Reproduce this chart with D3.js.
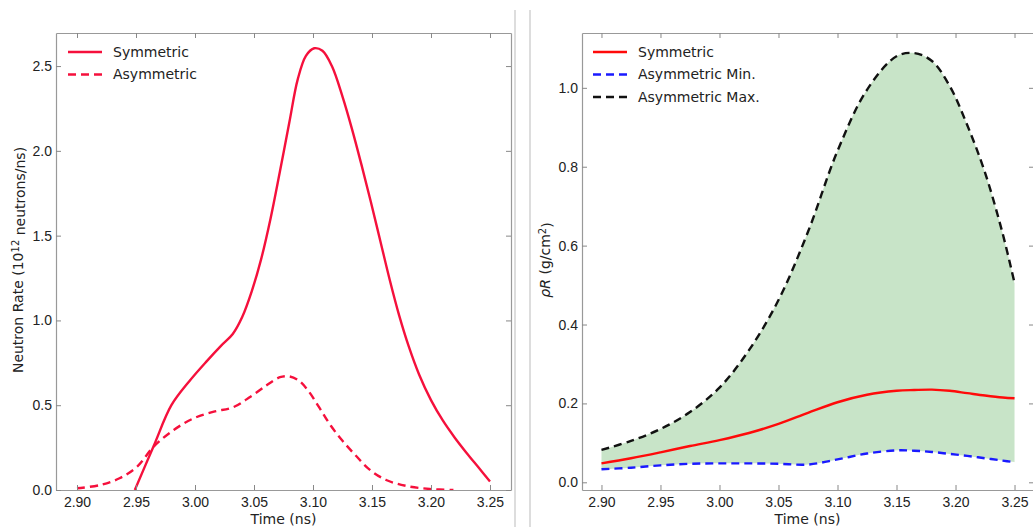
<!DOCTYPE html>
<html>
<head>
<meta charset="utf-8">
<script src="https://cdn.jsdelivr.net/npm/d3@7/dist/d3.min.js"></script>
<style>
  body { margin: 0; background: #fff; }
  svg { display: block; font-family: "DejaVu Sans", sans-serif; }
  .tick text { font-size: 14px; fill: #222; }
  .lbl { font-size: 14px; fill: #222; }
</style>
</head>
<body>
<script>
// left panel: neutron rate (10^12 neutrons/ns)
var symTime = [2.949, 2.965, 2.980, 2.995, 3.010, 3.022, 3.032, 3.040, 3.048, 3.056, 3.064, 3.072, 3.080, 3.087, 3.094, 3.101, 3.108, 3.116, 3.125, 3.133, 3.141, 3.149, 3.157, 3.165, 3.173, 3.181, 3.190, 3.200, 3.210, 3.220, 3.230, 3.240, 3.250];
var symRate = [0.0, 0.26, 0.50, 0.64, 0.76, 0.85, 0.92, 1.02, 1.17, 1.36, 1.60, 1.88, 2.17, 2.42, 2.56, 2.605, 2.59, 2.50, 2.32, 2.13, 1.92, 1.70, 1.47, 1.24, 1.03, 0.85, 0.68, 0.53, 0.41, 0.31, 0.22, 0.135, 0.05];

var asymTime = [2.900, 2.920, 2.936, 2.951, 2.965, 2.982, 2.999, 3.016, 3.032, 3.047, 3.061, 3.072, 3.080, 3.088, 3.096, 3.105, 3.115, 3.125, 3.136, 3.148, 3.162, 3.179, 3.199, 3.219];
var asymRate = [0.01, 0.03, 0.069, 0.138, 0.256, 0.354, 0.423, 0.462, 0.487, 0.55, 0.619, 0.665, 0.67, 0.645, 0.585, 0.49, 0.38, 0.29, 0.205, 0.12, 0.059, 0.024, 0.006, 0.0];

// right panel: rho R (g/cm2)
var rrTime = [2.900, 2.925, 2.950, 2.975, 3.000, 3.025, 3.050, 3.075, 3.100, 3.125, 3.150, 3.165, 3.180, 3.195, 3.210, 3.225, 3.240, 3.250];
var rrSym = [0.048, 0.061, 0.076, 0.092, 0.107, 0.125, 0.148, 0.176, 0.203, 0.222, 0.232, 0.234, 0.235, 0.232, 0.226, 0.220, 0.215, 0.213];
var rrMin = [0.033, 0.037, 0.043, 0.047, 0.048, 0.048, 0.047, 0.045, 0.058, 0.073, 0.081, 0.080, 0.077, 0.072, 0.067, 0.061, 0.055, 0.051];
var rrMax = [0.082, 0.105, 0.135, 0.178, 0.240, 0.335, 0.462, 0.635, 0.840, 0.995, 1.080, 1.088, 1.068, 1.005, 0.905, 0.785, 0.630, 0.505];

var xTicks = [2.90, 2.95, 3.00, 3.05, 3.10, 3.15, 3.20, 3.25];
var leftYTicks = [0.0, 0.5, 1.0, 1.5, 2.0, 2.5];
var rightYTicks = [0.0, 0.2, 0.4, 0.6, 0.8, 1.0];

var svg = d3.select("body").append("svg")
    .attr("width", 1033)
    .attr("height", 527);

// separator lines between the two figures
[515, 530].forEach(function (sx) {
    svg.append("line")
        .attr("x1", sx).attr("x2", sx)
        .attr("y1", 10).attr("y2", 527)
        .attr("stroke", "#bbb").attr("stroke-width", 1);
});

function zip(xs, ys) {
    return xs.map(function (t, i) { return { t: t, v: ys[i] }; });
}

function styleAxis(sel) {
    sel.select(".domain").attr("stroke", "#999").attr("stroke-width", 1.2);
    sel.selectAll(".tick line").attr("stroke", "#888");
}

function panel(opt) {
    var x = d3.scaleLinear().domain(opt.xdom).range([opt.left, opt.right]);
    var y = d3.scaleLinear().domain(opt.ydom).range([490, 33]);
    var g = svg.append("g");

    var clipId = "clip" + opt.left;
    g.append("clipPath").attr("id", clipId)
        .append("rect")
        .attr("x", opt.left).attr("y", 33)
        .attr("width", opt.right - opt.left).attr("height", 457);

    var plot = g.append("g").attr("clip-path", "url(#" + clipId + ")");

    // axes with inward ticks on all four sides
    g.append("g")
        .attr("transform", "translate(0,490)")
        .call(d3.axisBottom(x).tickValues(xTicks).tickFormat(d3.format(".2f")).tickSizeInner(-5).tickSizeOuter(0).tickPadding(7))
        .call(styleAxis);
    g.append("g")
        .attr("transform", "translate(0,33)")
        .call(d3.axisTop(x).tickValues(xTicks).tickFormat("").tickSizeInner(-5).tickSizeOuter(0))
        .call(styleAxis);
    g.append("g")
        .attr("transform", "translate(" + opt.left + ",0)")
        .call(d3.axisLeft(y).tickValues(opt.yTicks).tickFormat(d3.format(".1f")).tickSizeInner(-5).tickSizeOuter(0).tickPadding(4))
        .call(styleAxis);
    g.append("g")
        .attr("transform", "translate(" + opt.right + ",0)")
        .call(d3.axisRight(y).tickValues(opt.yTicks).tickFormat("").tickSizeInner(-5).tickSizeOuter(0))
        .call(styleAxis);

    g.append("text")
        .attr("class", "lbl")
        .attr("x", (opt.left + Math.min(opt.right, 1033)) / 2)
        .attr("y", 524)
        .attr("text-anchor", "middle")
        .text("Time (ns)");

    return { x: x, y: y, g: g, plot: plot };
}

function drawLine(p, data, color, dash) {
    var line = d3.line()
        .x(function (d) { return p.x(d.t); })
        .y(function (d) { return p.y(d.v); })
        .curve(d3.curveCatmullRom.alpha(0.5));
    p.plot.append("path")
        .datum(data)
        .attr("fill", "none")
        .attr("stroke", color)
        .attr("stroke-width", 2.4)
        .attr("stroke-dasharray", dash ? "8,5" : null)
        .attr("d", line);
}

function legend(g, x0, items) {
    items.forEach(function (it, i) {
        var yy = 52 + i * 22.5;
        g.append("line")
            .attr("x1", x0).attr("x2", x0 + 34)
            .attr("y1", yy).attr("y2", yy)
            .attr("stroke", it.color).attr("stroke-width", 2.4)
            .attr("stroke-dasharray", it.dash ? "8,5" : null);
        g.append("text")
            .attr("class", "lbl")
            .attr("x", x0 + 45)
            .attr("y", yy)
            .attr("dy", "0.35em")
            .text(it.name);
    });
}

// ----- left panel
var pL = panel({ left: 56, right: 511, xdom: [2.8822, 3.2678], ydom: [0, 2.695], yTicks: leftYTicks });
var red1 = "#f5103c";
drawLine(pL, zip(symTime, symRate), red1, false);
drawLine(pL, zip(asymTime, asymRate), red1, true);
legend(pL.g, 68, [
    { name: "Symmetric", color: red1, dash: false },
    { name: "Asymmetric", color: red1, dash: true }
]);
var yl = pL.g.append("text")
    .attr("class", "lbl")
    .attr("transform", "translate(23,260) rotate(-90)")
    .attr("text-anchor", "middle");
yl.append("tspan").text("Neutron Rate (10");
yl.append("tspan").attr("dy", "-0.45em").style("font-size", "10px").text("12");
yl.append("tspan").attr("dy", "0.45em").text(" neutrons/ns)");

// ----- right panel
var pR = panel({ left: 582, right: 1034, xdom: [2.8835, 3.2665], ydom: [-0.0195, 1.139], yTicks: rightYTicks });
var band = rrTime.map(function (t, i) { return { t: t, lo: rrMin[i], hi: rrMax[i] }; });
pR.plot.append("path")
    .datum(band)
    .attr("fill", "#c8e4c8")
    .attr("d", d3.area()
        .x(function (d) { return pR.x(d.t); })
        .y0(function (d) { return pR.y(d.lo); })
        .y1(function (d) { return pR.y(d.hi); })
        .curve(d3.curveCatmullRom.alpha(0.5)));
drawLine(pR, zip(rrTime, rrSym), "#ff0a0a", false);
drawLine(pR, zip(rrTime, rrMin), "#1a1aff", true);
drawLine(pR, zip(rrTime, rrMax), "#111", true);
legend(pR.g, 593, [
    { name: "Symmetric", color: "#ff0a0a", dash: false },
    { name: "Asymmetric Min.", color: "#1a1aff", dash: true },
    { name: "Asymmetric Max.", color: "#111", dash: true }
]);
var yr = pR.g.append("text")
    .attr("class", "lbl")
    .attr("transform", "translate(550,260) rotate(-90)")
    .attr("text-anchor", "middle");
yr.append("tspan").style("font-style", "italic").text("ρR");
yr.append("tspan").text(" (g/cm");
yr.append("tspan").attr("dy", "-0.45em").style("font-size", "10px").text("2");
yr.append("tspan").attr("dy", "0.45em").text(")");
</script>
</body>
</html>
